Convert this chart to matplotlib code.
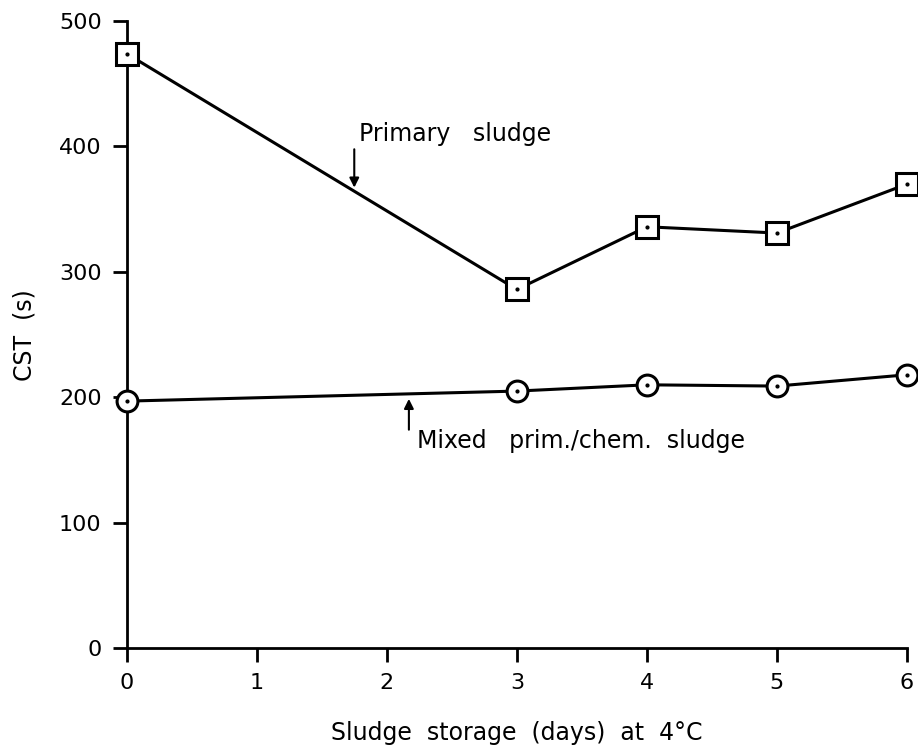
import matplotlib
matplotlib.use("Agg")
import matplotlib.pyplot as plt

days = [0, 3, 4, 5, 6]
primary = [474, 286, 336, 331, 370]
mixed = [197, 205, 210, 209, 218]

xticks = [0, 1, 2, 3, 4, 5, 6]
yticks = [0, 100, 200, 300, 400, 500]

plt.rcParams['font.family'] = 'DejaVu Sans'

fig = plt.figure(figsize=(9.18, 7.52), dpi=100)
ax = fig.add_axes([0.138, 0.138, 0.85, 0.834])

# lines with open markers and a dot in the middle
ax.plot(days, primary, color='black', lw=2.2, marker='s', ms=16,
        mfc='white', mec='black', mew=2.2, zorder=3, clip_on=False)
ax.plot(days, primary, ls='none', marker='.', ms=4, color='black', zorder=4, clip_on=False)
ax.plot(days, mixed, color='black', lw=2.2, marker='o', ms=15,
        mfc='white', mec='black', mew=2.2, zorder=3, clip_on=False)
ax.plot(days, mixed, ls='none', marker='.', ms=4, color='black', zorder=4, clip_on=False)

ax.annotate('', xy=(1.75, 365), xytext=(1.75, 400),
            arrowprops=dict(arrowstyle='-|>', color='black', lw=1.5, mutation_scale=14))
ax.text(1.79, 410, 'Primary   sludge', fontsize=17, va='center', ha='left')

ax.annotate('', xy=(2.17, 201), xytext=(2.17, 172),
            arrowprops=dict(arrowstyle='-|>', color='black', lw=1.5, mutation_scale=14))
ax.text(2.23, 165, 'Mixed   prim./chem.  sludge', fontsize=17, va='center', ha='left')

ax.set_xlim(0, 6)
ax.set_ylim(0, 500)
ax.set_xticks(xticks)
ax.set_yticks(yticks)
ax.tick_params(direction='out', length=10, width=2, labelsize=16, pad=8)

for side in ['top', 'right']:
    ax.spines[side].set_visible(False)
for side in ['left', 'bottom']:
    ax.spines[side].set_linewidth(2)

ax.set_xlabel('Sludge  storage  (days)  at  4°C', fontsize=17, labelpad=20)
ax.set_ylabel('CST  (s)', fontsize=17, labelpad=16)

fig.savefig('out.png', dpi=100)
